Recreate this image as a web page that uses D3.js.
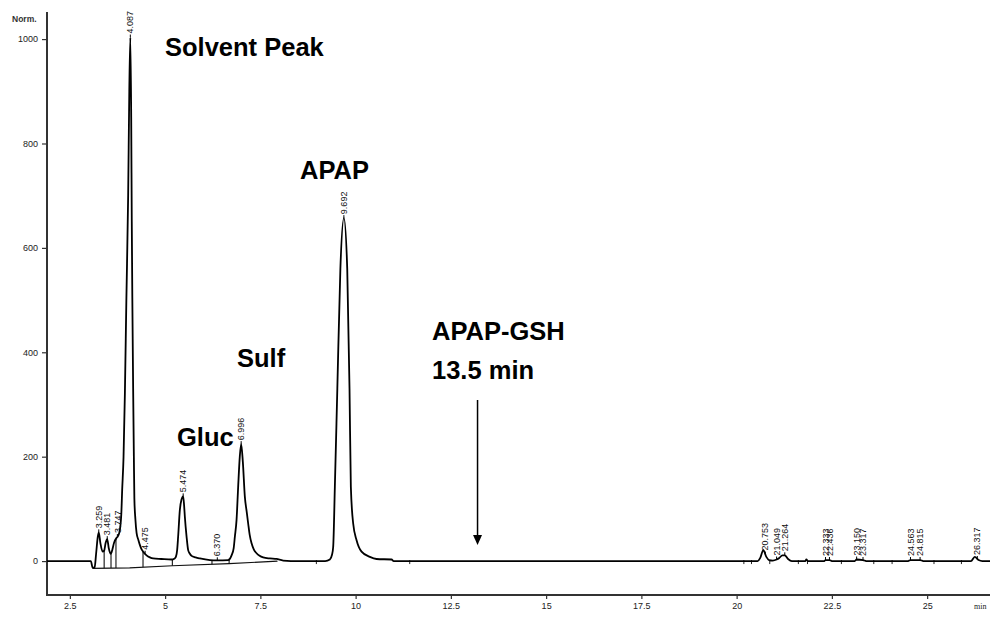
<!DOCTYPE html>
<html><head><meta charset="utf-8">
<script src="https://cdn.jsdelivr.net/npm/d3@7"></script>
<style>body{margin:0;background:#fff;} svg{display:block;}</style>
</head><body><svg id="c" width="990" height="618"></svg>
<script>
// ---- data ----
const traceTime = [1.9,3.05,3.10,3.15,3.19,3.23,3.259,3.30,3.36,3.40,3.44,3.481,3.52,3.57,3.60,3.66,3.72,3.747,3.80,3.85,3.873,3.909,3.944,3.983,4.03,4.06,4.087,4.11,4.125,4.14,4.161,4.18,4.193,4.22,4.251,4.30,4.337,4.38,4.424,4.513,4.60,4.686,4.9,5.169,5.25,5.282,5.316,5.342,5.387,5.43,5.474,5.50,5.518,5.563,5.605,5.65,5.694,5.8,5.912,6.175,6.37,6.655,6.744,6.80,6.831,6.875,6.917,6.96,6.996,7.04,7.093,7.14,7.18,7.22,7.269,7.33,7.40,7.48,7.573,7.75,7.925,8.1,8.5,9.2,9.324,9.38,9.411,9.455,9.52,9.60,9.692,9.78,9.84,9.875,9.936,10.025,10.156,10.374,10.55,10.944,11.0,20.0,20.55,20.62,20.70,20.78,20.85,20.95,21.05,21.12,21.20,21.264,21.35,21.45,21.80,21.83,21.87,22.30,22.333,22.436,22.5,23.10,23.15,23.317,23.4,24.5,24.563,24.815,24.9,26.15,26.25,26.35,26.45,26.7];
const traceSignal = [0,0,-13,-12,15,45,55,35,18,20,35,42,25,14,18,35,44,46,55,90,136,200,320,500,700,900,1003,850,650,500,330,200,120,80,54,40,31,23,18,11,7,5,4,3,5,8,21,47,98,118,124,105,85,47,21,14,10,7,5,2,1.5,2,11,25,47,79,142,200,224,190,123,95,72,50,34,22,15,10,7,5,4,1,0,0,3,12,27,142,330,560,657,560,330,142,72,40,18,8,4,3,0,0,0,6,21,8,2,1,3,6,11,11,4,0,0,3,0,0,2,2,0,0,3,2,0,0,2,2,0,0,8,2,0,0];
const baseTime = [3.10,4.07,5.19,6.68,7.95];
const baseSignal = [-14,-13,-9,-5,0];
const dropTimes = [3.40,3.58,3.71,4.42,5.19,6.23,6.68];
const eventTimes = [8.97,11.42,20.19,20.39,20.87,21.62,21.86,22.75,23.60,24.08,25.18,25.90];
const peakTimes = [3.259,3.481,3.747,4.087,4.475,5.474,6.370,6.996,9.692,20.753,21.049,21.264,22.333,22.436,23.150,23.317,24.563,24.815,26.317];
const peakLabels = ["3.259","3.481","3.747","4.087","4.475","5.474","6.370","6.996","9.692","20.753","21.049","21.264","22.333","22.436","23.150","23.317","24.563","24.815","26.317"];
const yTicks = [0,200,400,600,800,1000];
const xTicks = [2.5,5,7.5,10,12.5,15,17.5,20,22.5,25];
const annoTexts = ["Solvent Peak","APAP","Sulf","Gluc","APAP-GSH","13.5 min"];
const annoPos = [[165,56],[300,179],[237,367],[177,446],[432,340],[432,379]];
const yUnit = "Norm.";
const xUnit = "min";

// ---- drawing ----
const svg = d3.select("#c");
const x = d3.scaleLinear().domain([1.9, 26.65]).range([47, 990]);
const y = d3.scaleLinear().domain([-65, 1050]).range([595, 13]);
const axisColor = "#333";
const tickFont = "'Liberation Sans', Arial, sans-serif";

function interp(ts, vs, t){
  const i = d3.bisectRight(ts, t);
  if (i <= 0) return vs[0];
  if (i >= ts.length) return vs[vs.length-1];
  const t0 = ts[i-1], t1 = ts[i];
  return vs[i-1] + (vs[i]-vs[i-1])*(t-t0)/(t1-t0);
}

// Y axis
const yMinor = d3.range(-50, 1051, 50);
const gy = svg.append("g").attr("transform","translate(47,0)");
gy.call(d3.axisLeft(y).tickValues(yMinor).tickSize(3).tickFormat(""));
gy.call(d3.axisLeft(y).tickValues(yTicks).tickSize(5).tickFormat(d=>d));
gy.selectAll(".domain").remove();
gy.selectAll("line").attr("stroke", axisColor).attr("stroke-width",1.2);
gy.selectAll("text").attr("font-family", tickFont).attr("font-size", 9).attr("fill","#222").attr("x",-9);
svg.append("line").attr("x1",47).attr("x2",47).attr("y1",12).attr("y2",596)
  .attr("stroke",axisColor).attr("stroke-width",2);
svg.append("text").attr("x",12).attr("y",22).text(yUnit)
  .attr("font-family",tickFont).attr("font-size",8.5).attr("font-weight","bold").attr("fill","#333");

// X axis
const xMinor = d3.range(2.0, 26.6, 0.5);
const gx = svg.append("g").attr("transform","translate(0,595)");
gx.call(d3.axisBottom(x).tickValues(xMinor).tickSize(3).tickFormat(""));
gx.call(d3.axisBottom(x).tickValues(xTicks).tickSize(4).tickFormat(d=>d));
gx.selectAll(".domain").remove();
gx.selectAll("line").attr("stroke", axisColor).attr("stroke-width",1.2);
gx.selectAll("text").attr("font-family", tickFont).attr("font-size", 9).attr("fill","#222").attr("y",8);
svg.append("line").attr("x1",46).attr("x2",990).attr("y1",595).attr("y2",595)
  .attr("stroke",axisColor).attr("stroke-width",2);
svg.append("text").attr("x",974).attr("y",609).text(xUnit)
  .attr("font-family","'Liberation Serif', serif").attr("font-size",8).attr("fill","#222");

// integration baseline and drop lines
const baseLine = d3.line().x(d=>x(d[0])).y(d=>y(d[1]));
svg.append("path").attr("d", baseLine(baseTime.map((t,i)=>[t, baseSignal[i]])))
  .attr("fill","none").attr("stroke","#111").attr("stroke-width",1.2);
svg.selectAll(".drop").data(dropTimes).join("line").attr("class","drop")
  .attr("x1",d=>x(d)).attr("x2",d=>x(d))
  .attr("y1",d=>y(interp(traceTime, traceSignal, d)))
  .attr("y2",d=>y(interp(baseTime, baseSignal, d)))
  .attr("stroke","#111").attr("stroke-width",1.1);
svg.selectAll(".evt").data(eventTimes).join("line").attr("class","evt")
  .attr("x1",d=>x(d)).attr("x2",d=>x(d))
  .attr("y1",y(0)-1).attr("y2",y(0)+3)
  .attr("stroke","#222").attr("stroke-width",1);

// signal trace
const line = d3.line().x(i=>x(traceTime[i])).y(i=>y(traceSignal[i])).curve(d3.curveMonotoneX);
svg.append("path").attr("d", line(d3.range(traceTime.length)))
  .attr("fill","none").attr("stroke","#000").attr("stroke-width",1.8).attr("stroke-linejoin","round");

// peak labels
const pl = svg.selectAll(".pk").data(peakTimes).join("g").attr("class","pk")
  .attr("transform", d=>`translate(${x(d)},${y(interp(traceTime, traceSignal, d))})`);
pl.append("line").attr("y1",0).attr("y2",-3).attr("stroke","#000").attr("stroke-width",1);
pl.append("text").attr("transform","rotate(-90)").attr("x",4).attr("dy","0.35em")
  .text((d,i)=>peakLabels[i])
  .attr("font-family", tickFont).attr("font-size", 9).attr("fill","#111");

// annotations
svg.selectAll(".anno").data(annoTexts).join("text").attr("class","anno")
  .attr("x",(d,i)=>annoPos[i][0]).attr("y",(d,i)=>annoPos[i][1]).text(d=>d)
  .attr("font-family","'Liberation Sans', Arial, sans-serif").attr("font-weight","bold")
  .attr("font-size",25.5).attr("fill","#000");

// arrow to 13.2 min
const ax = x(13.2);
svg.append("line").attr("x1",ax).attr("x2",ax).attr("y1",400).attr("y2",536)
  .attr("stroke","#000").attr("stroke-width",1.5);
svg.append("path").attr("d",`M${ax-4.5},535 L${ax+4.5},535 L${ax},545 Z`).attr("fill","#000");
</script></body></html>
